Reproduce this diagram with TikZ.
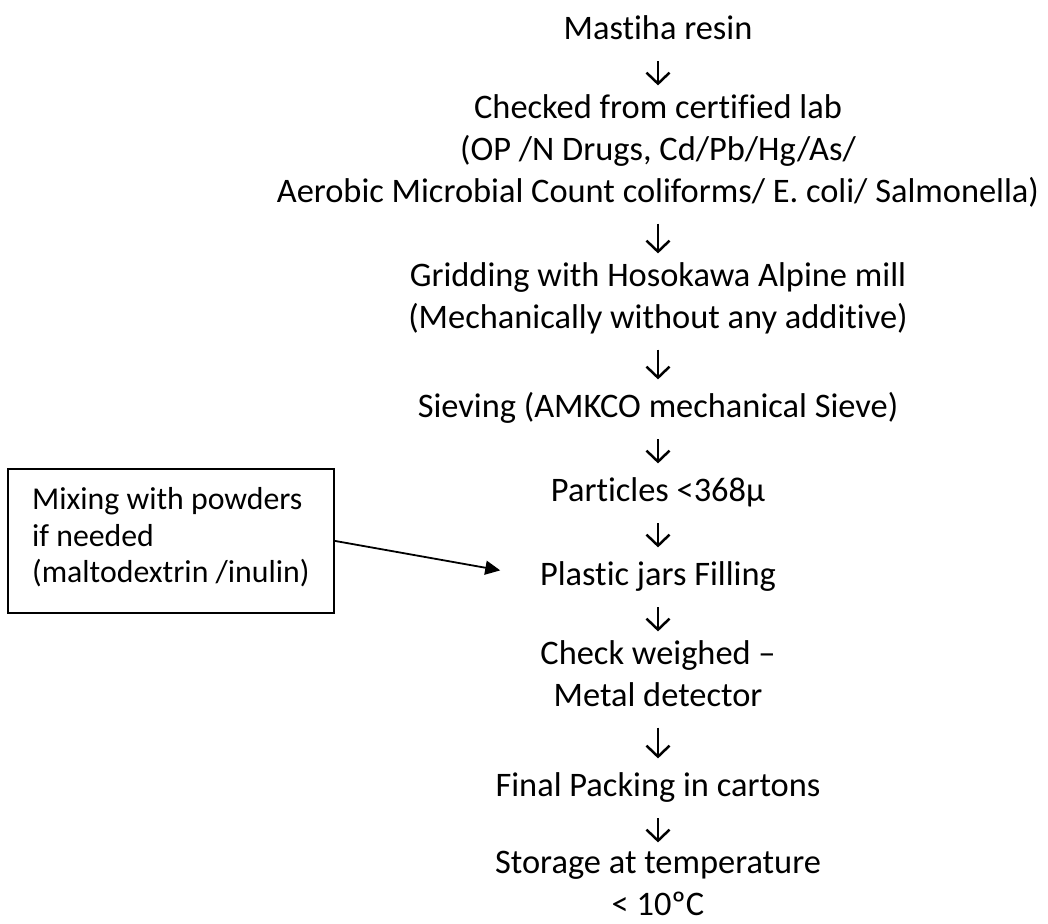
\documentclass[tikz,border=0pt]{standalone}
\usepackage{fontspec}
\setmainfont{Carlito}[Ligatures=NoCommon]
\usetikzlibrary{arrows.meta}
\tikzset{
  stage/.style={anchor=north, align=center, inner sep=0pt,
    font=\fontsize{17.2}{21}\selectfont,
    execute at begin node=\strut, execute at end node=\strut},
  flow/.style={-{Straight Barb[length=5.5pt,width=11.5pt]}, line width=1.25pt,
    shorten <=4.2pt, shorten >=4.3pt},
  mixbox/.style={draw, line width=0.9pt, align=left, inner sep=0pt,
    minimum width=163pt, minimum height=72pt,
    font=\fontsize{15.9}{18.25}\selectfont,
    execute at begin node=\strut, execute at end node=\strut},
  mixarrow/.style={-{Triangle[length=7.5pt,width=7pt]}, line width=0.9pt,
    shorten >=20pt}
}
\begin{document}
\begin{tikzpicture}[x=0.5pt,y=-0.5pt]
\useasboundingbox (0,0) rectangle (1048,924);
% main column, one text line every 42 units
\node[stage] (resin) at (658,10) {Mastiha resin};
\node[stage] (lab) at (658,94) {Checked from certified lab\\(OP /N Drugs, Cd/Pb/Hg/As/\\Aerobic Microbial Count coliforms/ E. coli/ Salmonella)};
\node[stage] (mill) at (658,262) {Gridding with Hosokawa Alpine mill\\(Mechanically without any additive)};
\node[stage] (sieve) at (658,388) {Sieving (AMKCO mechanical Sieve)};
\node[stage] (part) at (658,472) {Particles <368µ};
\node[stage] (fill) at (658,556) {Plastic jars Filling};
\node[stage] (check) at (658,640) {Check weighed –\\Metal detector};
\node[stage] (pack) at (658,767) {Final Packing in cartons};
\node[stage] (store) at (658,851) {Storage at temperature\\< 10ºC};
\foreach \a/\b in {resin/lab, lab/mill, mill/sieve, sieve/part, part/fill, fill/check, check/pack, pack/store} % down arrows
\draw[flow] (\a) -- (\b);
% side box
\node[mixbox, anchor=north west] (mix) at (7,468) {Mixing with powders\\if needed\\(maltodextrin /inulin)};
\draw[mixarrow] (mix.east) -- (fill.west);
\end{tikzpicture}
\end{document}
